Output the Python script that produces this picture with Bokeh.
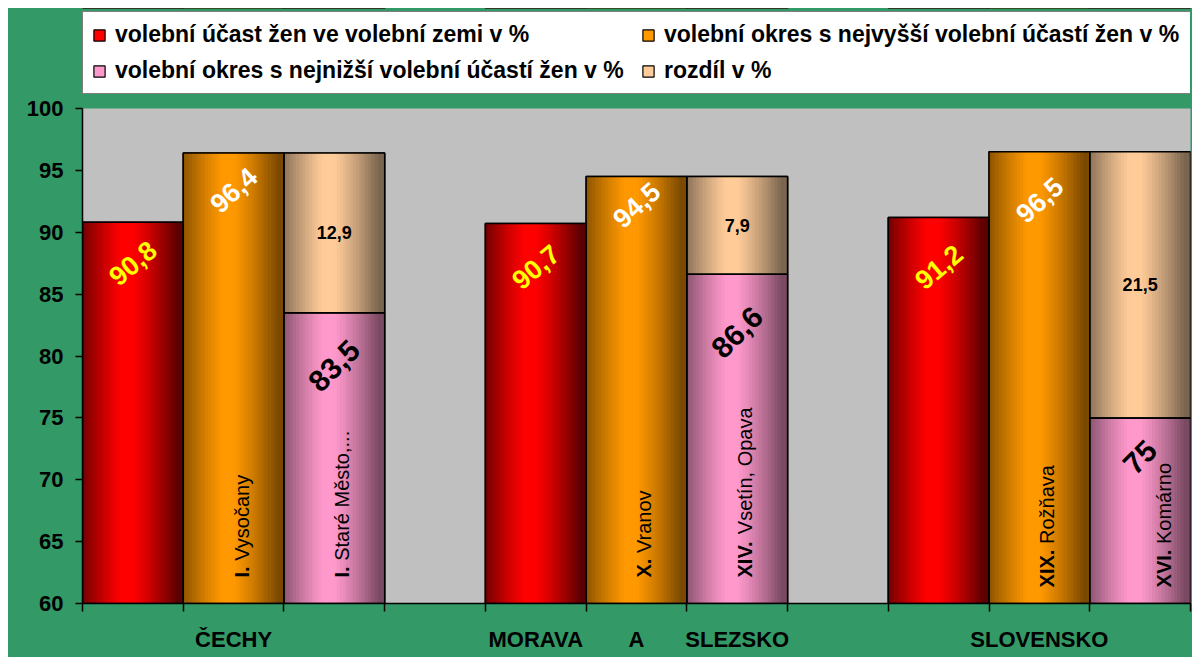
import math
from bokeh.plotting import figure
from bokeh.layouts import column
from bokeh.models import ColumnDataSource, FixedTicker, Legend, LegendItem, Range1d
from bokeh.core.properties import value
from bokeh.embed import file_html
from bokeh.resources import INLINE

# ---------------- data ----------------
regions = ["ČECHY", "MORAVA A SLEZSKO", "SLOVENSKO"]
x_labels = ["", "ČECHY", "", "", "MORAVA", "A", "SLEZSKO", "", "", "SLOVENSKO", ""]
zeme = [90.8, 90.7, 91.2]          # volební účast žen ve volební zemi v %
nejvyssi = [96.4, 94.5, 96.5]      # okres s nejvyšší účastí
nejnizsi = [83.5, 86.6, 75.0]      # okres s nejnižší účastí
rozdil = [12.9, 7.9, 21.5]         # rozdíl v %
max_num = ["I.", "X.", "XIX."]
max_name = ["Vysočany", "Vranov", "Rožňava"]
min_num = ["I.", "XIV.", "XVI."]
min_name = ["Staré Město,...", "Vsetín, Opava", "Komárno"]
y_ticks = [60, 65, 70, 75, 80, 85, 90, 95, 100]
legend_labels = [
    "volební účast žen ve volební zemi v %",
    "volební okres s nejvyšší volební účastí žen v %",
    "volební okres s nejnižší volební účastí žen v %",
    "rozdíl v %",
]

# ---------------- style / layout ----------------
FONT = "Liberation Sans"
GREEN = "#339966"
PLOT_BG = "#c0c0c0"
COLORS = {  # (center, edge)
    "red": ("#ff0000", "#5c0000"),
    "orange": ("#ff9900", "#7a4900"),
    "pink": ("#ff99cc", "#7a4a62"),
    "tan": ("#ffcc99", "#7a6550"),
}
Y0, Y1 = 60, 100
W = 1184
TOP_H = 87
MAIN_H = 562
BL, BR, BB, BT = 74, 2, 54, 13
N_STRIPS = 32
# label placement (distance below the bar top, in axis units)
drop_red = [3.3, 3.5, 4.0]
drop_or = [3.0, 2.3, 3.9]
drop_pk = [4.3, 4.7, 3.2]
label_base = [62.1, 62.1, 61.3]     # where the vertical district labels start
label_shift = [0.0, 0.0, 0.16]      # sideways shift of the lowest-district labels

def fmt(v):
    return ("%g" % v).replace(".", ",")

def h2rgb(h):
    h = h.lstrip("#")
    return tuple(int(h[i:i + 2], 16) for i in (0, 2, 4))

def mix(c1, c2, t):
    a, b = h2rgb(c1), h2rgb(c2)
    return "#%02x%02x%02x" % tuple(int(round(a[i] * (1 - t) + b[i] * t)) for i in range(3))

def shade(u):
    return min(1.0, max(0.0, (abs(u - 0.45) - 0.05) / 0.45)) ** 1.2

def strip_source(xcs, bottoms, tops, key):
    center, edge = COLORS[key]
    d = dict(x=[], w=[], b=[], t=[], c=[])
    for xc, b, t in zip(xcs, bottoms, tops):
        for k in range(N_STRIPS):
            u = (k + 0.5) / N_STRIPS
            d["x"].append(xc - 0.5 + u)
            d["w"].append(1.0 / N_STRIPS + 0.004)
            d["b"].append(b)
            d["t"].append(t)
            d["c"].append(mix(center, edge, shade(u)))
    return ColumnDataSource(d)

n_slots = len(x_labels)
x_red = [4 * g + 0.5 for g in range(len(regions))]
x_or = [4 * g + 1.5 for g in range(len(regions))]
x_pk = [4 * g + 2.5 for g in range(len(regions))]
tan_top = [a + b for a, b in zip(nejnizsi, rozdil)]

series = [
    ("red", x_red, [Y0] * 3, zeme),
    ("orange", x_or, [Y0] * 3, nejvyssi),
    ("pink", x_pk, [Y0] * 3, nejnizsi),
    ("tan", x_pk, nejnizsi, tan_top),
]

p = figure(width=W, height=MAIN_H, output_backend="svg", toolbar_location=None,
           x_range=Range1d(0, n_slots), y_range=Range1d(Y0, Y1),
           min_border_left=BL, min_border_right=BR, min_border_bottom=BB, min_border_top=BT)
p.background_fill_color = PLOT_BG
p.border_fill_color = GREEN
p.outline_line_color = None
p.grid.visible = False

for key, xs, bs, ts in series:
    p.vbar(x=xs, width=1, bottom=bs, top=ts, fill_color=COLORS[key][0],
           line_color="black", line_width=1.5)
    src = strip_source(xs, bs, ts, key)
    p.vbar(x="x", width="w", bottom="b", top="t", fill_color="c", line_color="c",
           line_width=0.6, source=src)
for key, xs, bs, ts in series:
    p.vbar(x=xs, width=1, bottom=bs, top=ts, fill_color=None,
           line_color="black", line_width=1.5)

# ---------------- value labels ----------------
def add_text(xs, ys, texts, color, size, angle=0.0, style="bold", align="center",
             baseline="middle"):
    src = ColumnDataSource(dict(x=xs, y=ys, t=texts))
    p.text(x="x", y="y", text="t", source=src, text_color=color,
           text_font=value(FONT), text_font_size=size, text_font_style=style,
           angle=angle, text_align=align, text_baseline=baseline)

add_text(x_red, [v - d for v, d in zip(zeme, drop_red)], [fmt(v) for v in zeme],
         "#ffff00", "27px", angle=math.radians(40))
add_text(x_or, [v - d for v, d in zip(nejvyssi, drop_or)], [fmt(v) for v in nejvyssi],
         "white", "27px", angle=math.radians(42))
add_text(x_pk, [v - d for v, d in zip(nejnizsi, drop_pk)], [fmt(v) for v in nejnizsi],
         "black", "30px", angle=math.radians(45))
add_text(x_pk, [(a + b) / 2 for a, b in zip(nejnizsi, tan_top)], [fmt(v) for v in rozdil],
         "black", "18px")

# vertical district labels: bold numeral + regular name
BOLD_W = {"I": 0.278, "V": 0.667, "X": 0.667, ".": 0.278}
LBL_PX = 20
frame_h = MAIN_H - BB - BT
ppu = frame_h / (Y1 - Y0)

def add_vertical(xs, nums, names, shifts):
    offs = [(sum(BOLD_W.get(ch, 0.6) for ch in n) + 0.278) * LBL_PX / ppu for n in nums]
    xx = [x - 0.03 + s for x, s in zip(xs, shifts)]
    add_text(xx, label_base, nums, "black", f"{LBL_PX}px", angle=math.pi / 2,
             style="bold", align="left", baseline="top")
    add_text(xx, [b + o for b, o in zip(label_base, offs)], names, "black", f"{LBL_PX}px",
             angle=math.pi / 2, style="normal", align="left", baseline="top")

add_vertical(x_or, max_num, max_name, [0.0] * 3)
add_vertical(x_pk, min_num, min_name, label_shift)

# ---------------- axes ----------------
label_pos = [i + 0.5 for i, s in enumerate(x_labels) if s]
p.xaxis.ticker = FixedTicker(ticks=label_pos, minor_ticks=list(range(n_slots + 1)))
p.xaxis.major_label_overrides = {i + 0.5: s for i, s in enumerate(x_labels) if s}
p.xaxis.major_tick_out = 0
p.xaxis.major_tick_in = 0
p.xaxis.minor_tick_out = 8
p.xaxis.minor_tick_in = 0
p.xaxis.minor_tick_line_color = "black"
p.xaxis.major_label_standoff = 15

p.yaxis.ticker = FixedTicker(ticks=y_ticks, minor_ticks=[])
p.yaxis.major_tick_out = 7
p.yaxis.major_tick_in = 0
p.yaxis.major_label_standoff = 12

for ax in (p.xaxis, p.yaxis):
    ax.axis_line_color = "black"
    ax.axis_line_width = 1.5
    ax.major_tick_line_color = "black"
    ax.major_tick_line_width = 1.5
    ax.minor_tick_line_width = 1.5
    ax.major_label_text_font = FONT
    ax.major_label_text_font_style = "bold"
    ax.major_label_text_font_size = "22px"
    ax.major_label_text_color = "black"

# ---------------- legend (own strip above the chart) ----------------
top = figure(width=W, height=TOP_H, output_backend="svg", toolbar_location=None,
             x_range=Range1d(0, n_slots), y_range=Range1d(0, 1),
             x_axis_type=None, y_axis_type=None,
             min_border_left=BL, min_border_right=BR, min_border_top=0, min_border_bottom=0)
top.background_fill_alpha = 0
top.border_fill_alpha = 0
top.outline_line_color = None
top.grid.visible = False
swatches = {}
for key, xs, bs, ts in series:
    # same bars; they lie outside this strip's y-range, only their legend swatch shows
    swatches[key] = top.vbar(x=xs, width=1, bottom=bs, top=ts, fill_color=COLORS[key][0],
                             line_color="black", line_width=1.2)

legend = Legend(
    items=[LegendItem(label=lab, renderers=[swatches[k]])
           for lab, k in zip(legend_labels, ["red", "orange", "pink", "tan"])],
    orientation="horizontal", ncols=2, location=(0, 1),
    label_text_font=FONT, label_text_font_style="bold", label_text_font_size="23px",
    label_text_color="black", glyph_width=14, glyph_height=14, label_standoff=9,
    label_height=26, label_width=517, spacing=9, padding=9, margin=0,
    border_line_color="black", border_line_width=1.5,
    background_fill_color="white", background_fill_alpha=1.0,
)
top.add_layout(legend, "center")

layout = column(top, p, spacing=0, margin=(8, 0, 0, 8),
                styles={"background-color": GREEN})
open("out.html", "w").write(file_html(layout, INLINE))
